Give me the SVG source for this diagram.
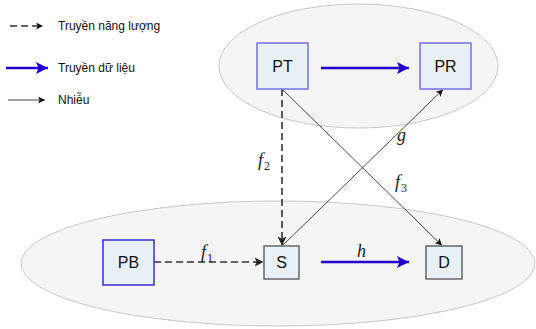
<svg xmlns="http://www.w3.org/2000/svg" width="536" height="329" viewBox="0 0 536 329">
<defs>
<marker id="ah" viewBox="0 0 10 10" refX="10" refY="5" markerWidth="7" markerHeight="7" markerUnits="userSpaceOnUse" orient="auto">
<path d="M0,0 L10,5 L0,10 L2.5,5 z" fill="#111"/>
</marker>
<marker id="ahd" viewBox="0 0 10 10" refX="10" refY="5" markerWidth="9" markerHeight="9" markerUnits="userSpaceOnUse" orient="auto">
<path d="M0,0 L10,5 L0,10 L2.5,5 z" fill="#222"/>
</marker>
<marker id="ahb" viewBox="0 0 10 10" refX="10" refY="5" markerWidth="12" markerHeight="12" markerUnits="userSpaceOnUse" orient="auto">
<path d="M0,0 L10,5 L0,10 L2,5 z" fill="#2200cc"/>
</marker>
</defs>
<style>
.ell{fill:#f5f5f5;stroke:#c8c8c8;stroke-width:1}
.box{fill:#e9f1f6;stroke-width:1.5}
.pv{stroke:#7b6cf0}
.pb{stroke:#3a2ed0}
.gr{stroke:#666666}
.lbl{font-family:"Liberation Sans",Arial,sans-serif;font-size:16px;fill:#111;text-anchor:middle;dominant-baseline:central}
.leg{font-family:"Liberation Sans",Arial,sans-serif;font-size:12px;fill:#111}
.math{font-family:"Liberation Serif","Times New Roman",serif;font-style:italic;font-size:18px;fill:#222}
.sub{font-family:"Liberation Serif","Times New Roman",serif;font-style:normal;font-size:12px;fill:#222}
.dash{stroke:#333;stroke-width:1.6;stroke-dasharray:7,4;fill:none}
.thin{stroke:#333;stroke-width:0.9;fill:none}
.blue{stroke:#2200cc;stroke-width:2.5;fill:none}
</style>
<ellipse class="ell" cx="358.5" cy="66" rx="139.5" ry="62"/>
<ellipse class="ell" cx="278" cy="263.5" rx="257" ry="62.5"/>
<g id="legend">
<line class="dash" x1="10" y1="26" x2="43" y2="26" stroke-dasharray="10,6" marker-end="url(#ah)"/>
<text class="leg" x="58" y="30">Truyền năng lượng</text>
<line class="blue" x1="6" y1="68" x2="48" y2="68" marker-end="url(#ahb)"/>
<text class="leg" x="58" y="72">Truyền dữ liệu</text>
<line class="thin" x1="8" y1="100" x2="45" y2="100" stroke-width="1" marker-end="url(#ah)"/>
<text class="leg" x="58" y="104">Nhiễu</text>
</g>
<g id="connectors">
<line class="blue" x1="321" y1="68" x2="409" y2="68" marker-end="url(#ahb)"/>
<line class="blue" x1="321" y1="262" x2="409" y2="262" marker-end="url(#ahb)"/>
<line class="dash" x1="154" y1="262" x2="263.5" y2="262" marker-end="url(#ahd)"/>
<line class="dash" x1="282" y1="89" x2="282" y2="245.5" marker-end="url(#ahd)"/>
<line class="thin" x1="282" y1="89" x2="442" y2="245.5" marker-end="url(#ah)"/>
<line class="thin" x1="282" y1="246" x2="443" y2="89.5" marker-end="url(#ah)"/>
<text class="math" x="201" y="258">f<tspan class="sub" dy="4" dx="1">1</tspan></text>
<text class="math" x="258" y="166">f<tspan class="sub" dy="4" dx="1">2</tspan></text>
<text class="math" x="395" y="188">f<tspan class="sub" dy="4" dx="1">3</tspan></text>
<text class="math" x="397" y="141">g</text>
<text class="math" x="357" y="257">h</text>
</g>
<g id="PT"><rect class="box pv" x="257" y="43" width="51" height="46"/><text class="lbl" x="282.5" y="66">PT</text></g>
<g id="PR"><rect class="box pv" x="420" y="43" width="51" height="46"/><text class="lbl" x="445.5" y="66">PR</text></g>
<g id="PB"><rect class="box pb" x="103" y="240" width="51" height="45" stroke-width="1.2"/><text class="lbl" x="128.5" y="262.5">PB</text></g>
<g id="S"><rect class="box gr" x="264" y="246" width="35" height="33"/><text class="lbl" x="281.5" y="262.5">S</text></g>
<g id="D"><rect class="box gr" x="426" y="246" width="36" height="33"/><text class="lbl" x="444" y="262.5">D</text></g>
</svg>
